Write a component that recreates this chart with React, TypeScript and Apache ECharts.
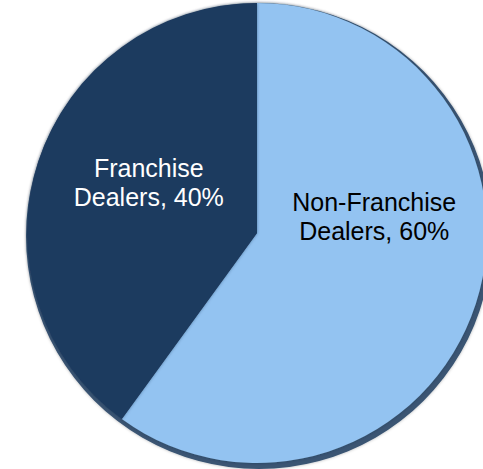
import React, { useEffect, useRef } from "react";
import * as echarts from "echarts";

const categories = ["Non-Franchise\nDealers", "Franchise\nDealers"];
const values = [60, 40];
const sliceColors = ["#93C3F1", "#1F3A5F"];
const labelColors = ["#000000", "#FFFFFF"];

export default function App() {
  const ref = useRef<HTMLDivElement>(null);
  useEffect(() => {
    if (!ref.current) return;
    const chart = echarts.init(ref.current, undefined, { renderer: "svg" });
    const data = categories.map((c, i) => ({
      name: c,
      value: values[i],
      itemStyle: {
        color: sliceColors[i],
      },
      label: { color: labelColors[i] },
    }));
    const cx = 257;
    const cy = 233;
    const r = 233;
    chart.setOption({
      animation: false,
      series: [
        {
          type: "pie",
          silent: true,
          center: [cx + 2, cy + 3],
          radius: [0, r],
          label: { show: false },
          labelLine: { show: false },
          itemStyle: {
            color: "#3A5573",
            shadowColor: "rgba(0,0,0,0.3)",
            shadowBlur: 3,
          },
          data: [{ name: "edge", value: 1 }],
          z: 1,
        },
        {
          type: "pie",
          center: [cx, cy],
          radius: [0, r - 3],
          startAngle: 90,
          clockwise: true,
          z: 2,
          itemStyle: {
            borderWidth: 0,
            shadowColor: "rgba(20,40,70,0.5)",
            shadowBlur: 3,
          },
          label: {
            show: true,
            position: "inside",
            fontFamily: "Liberation Sans, Arial, sans-serif",
            fontSize: 25,
            lineHeight: 29,
            align: "center",
            formatter: (p: any) => `${p.name}, ${p.value}%`,
          },
          labelLine: { show: false },
          labelLayout: (p: any) => {
            if (p.dataIndex === 0) return { dx: 5, dy: -53 };
            return { dx: 4, dy: -14 };
          },
          data,
        },
      ],
    });
    return () => chart.dispose();
  }, []);
  return (
    <div
      ref={ref}
      style={{ position: "fixed", left: 0, top: 0, width: 483, height: 469, background: "#fff" }}
    />
  );
}
